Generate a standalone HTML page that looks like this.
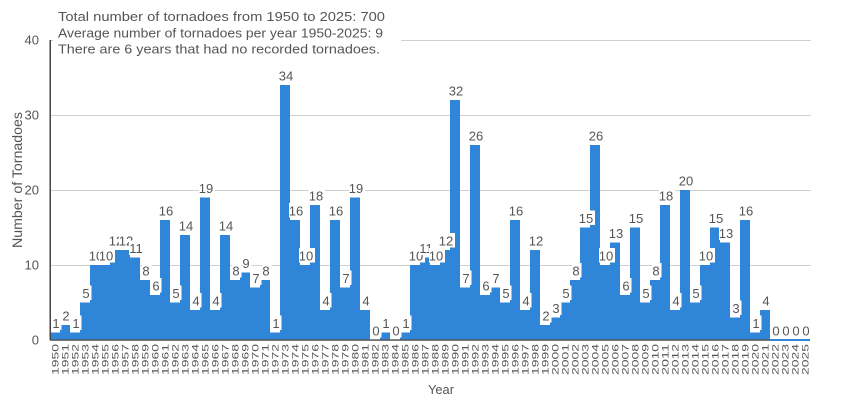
<!DOCTYPE html>
<html><head><meta charset="utf-8"><style>
html,body{margin:0;padding:0;background:#fff;}
svg{display:block;}
text{font-family:"Liberation Sans",sans-serif;fill:#555;}
.v{font-size:13px;text-anchor:middle;}
.t{font-size:9.5px;text-anchor:end;}
.y{font-size:13px;text-anchor:end;}
</style></head><body>
<svg width="860" height="400" viewBox="0 0 860 400" xmlns="http://www.w3.org/2000/svg">
<rect width="860" height="400" fill="#fff"/>
<g stroke="#d0d0d0" stroke-width="1">
<line x1="50" y1="40.5" x2="811" y2="40.5"/>
<line x1="50" y1="115.5" x2="811" y2="115.5"/>
<line x1="50" y1="190.5" x2="811" y2="190.5"/>
<line x1="50" y1="265.5" x2="811" y2="265.5"/>
</g>
<path fill="#2f85d8" d="M50 340 V332.5 H60 V325 H70 V332.5 H80 V302.5 H90 V265 H110 V250 H130 V257.5 H140 V280 H150 V295 H160 V220 H170 V302.5 H180 V235 H190 V310 H200 V197.5 H210 V310 H220 V235 H230 V280 H240 V272.5 H250 V287.5 H260 V280 H270 V332.5 H280 V85 H290 V220 H300 V265 H310 V205 H320 V310 H330 V220 H340 V287.5 H350 V197.5 H360 V310 H370 V340 H380 V332.5 H390 V340 H400 V332.5 H410 V265 H420 V257.5 H430 V265 H440 V250 H450 V100 H460 V287.5 H470 V145 H480 V295 H490 V287.5 H500 V302.5 H510 V220 H520 V310 H530 V250 H540 V325 H550 V317.5 H560 V302.5 H570 V280 H580 V227.5 H590 V145 H600 V265 H610 V242.5 H620 V295 H630 V227.5 H640 V302.5 H650 V280 H660 V205 H670 V310 H680 V190 H690 V302.5 H700 V265 H710 V227.5 H720 V242.5 H730 V317.5 H740 V220 H750 V332.5 H760 V310 H770 V340 Z"/>
<rect x="50" y="339.3" width="720" height="1.5" fill="#555"/>
<rect x="770" y="339" width="40" height="2" fill="#2f85d8"/>
<rect x="49.5" y="40" width="1.5" height="300" fill="#444"/>

<!-- value labels -->
<g>
<rect x="52.5" y="315.5" width="9" height="14.5" fill="#fff"/><text class="v" x="56" y="328">1</text>
<rect x="62.5" y="308" width="9" height="14.5" fill="#fff"/><text class="v" x="66" y="320.5">2</text>
<rect x="72.5" y="315.5" width="9" height="14.5" fill="#fff"/><text class="v" x="76" y="328">1</text>
<rect x="82.5" y="285.5" width="9" height="14.5" fill="#fff"/><text class="v" x="86" y="298">5</text>
<rect x="89" y="248" width="16" height="14.5" fill="#fff"/><text class="v" x="96" y="260.5">10</text>
<rect x="99" y="248" width="16" height="14.5" fill="#fff"/><text class="v" x="106" y="260.5">10</text>
<rect x="109" y="233" width="16" height="14.5" fill="#fff"/><text class="v" x="116" y="245.5">12</text>
<rect x="119" y="233" width="16" height="14.5" fill="#fff"/><text class="v" x="126" y="245.5">12</text>
<rect x="129" y="240.5" width="16" height="14.5" fill="#fff"/><text class="v" x="136" y="253">11</text>
<rect x="142.5" y="263" width="9" height="14.5" fill="#fff"/><text class="v" x="146" y="275.5">8</text>
<rect x="152.5" y="278" width="9" height="14.5" fill="#fff"/><text class="v" x="156" y="290.5">6</text>
<rect x="159" y="203" width="16" height="14.5" fill="#fff"/><text class="v" x="166" y="215.5">16</text>
<rect x="172.5" y="285.5" width="9" height="14.5" fill="#fff"/><text class="v" x="176" y="298">5</text>
<rect x="179" y="218" width="16" height="14.5" fill="#fff"/><text class="v" x="186" y="230.5">14</text>
<rect x="192.5" y="293" width="9" height="14.5" fill="#fff"/><text class="v" x="196" y="305.5">4</text>
<rect x="199" y="180.5" width="16" height="14.5" fill="#fff"/><text class="v" x="206" y="193">19</text>
<rect x="212.5" y="293" width="9" height="14.5" fill="#fff"/><text class="v" x="216" y="305.5">4</text>
<rect x="219" y="218" width="16" height="14.5" fill="#fff"/><text class="v" x="226" y="230.5">14</text>
<rect x="232.5" y="263" width="9" height="14.5" fill="#fff"/><text class="v" x="236" y="275.5">8</text>
<rect x="242.5" y="255.5" width="9" height="14.5" fill="#fff"/><text class="v" x="246" y="268">9</text>
<rect x="252.5" y="270.5" width="9" height="14.5" fill="#fff"/><text class="v" x="256" y="283">7</text>
<rect x="262.5" y="263" width="9" height="14.5" fill="#fff"/><text class="v" x="266" y="275.5">8</text>
<rect x="272.5" y="315.5" width="9" height="14.5" fill="#fff"/><text class="v" x="276" y="328">1</text>
<rect x="279" y="68" width="16" height="14.5" fill="#fff"/><text class="v" x="286" y="80.5">34</text>
<rect x="289" y="203" width="16" height="14.5" fill="#fff"/><text class="v" x="296" y="215.5">16</text>
<rect x="299" y="248" width="16" height="14.5" fill="#fff"/><text class="v" x="306" y="260.5">10</text>
<rect x="309" y="188" width="16" height="14.5" fill="#fff"/><text class="v" x="316" y="200.5">18</text>
<rect x="322.5" y="293" width="9" height="14.5" fill="#fff"/><text class="v" x="326" y="305.5">4</text>
<rect x="329" y="203" width="16" height="14.5" fill="#fff"/><text class="v" x="336" y="215.5">16</text>
<rect x="342.5" y="270.5" width="9" height="14.5" fill="#fff"/><text class="v" x="346" y="283">7</text>
<rect x="349" y="180.5" width="16" height="14.5" fill="#fff"/><text class="v" x="356" y="193">19</text>
<rect x="362.5" y="293" width="9" height="14.5" fill="#fff"/><text class="v" x="366" y="305.5">4</text>
<rect x="372.5" y="323" width="9" height="14.5" fill="#fff"/><text class="v" x="376" y="335.5">0</text>
<rect x="382.5" y="315.5" width="9" height="14.5" fill="#fff"/><text class="v" x="386" y="328">1</text>
<rect x="392.5" y="323" width="9" height="14.5" fill="#fff"/><text class="v" x="396" y="335.5">0</text>
<rect x="402.5" y="315.5" width="9" height="14.5" fill="#fff"/><text class="v" x="406" y="328">1</text>
<rect x="409" y="248" width="16" height="14.5" fill="#fff"/><text class="v" x="416" y="260.5">10</text>
<rect x="419" y="240.5" width="16" height="14.5" fill="#fff"/><text class="v" x="426" y="253">11</text>
<rect x="429" y="248" width="16" height="14.5" fill="#fff"/><text class="v" x="436" y="260.5">10</text>
<rect x="439" y="233" width="16" height="14.5" fill="#fff"/><text class="v" x="446" y="245.5">12</text>
<rect x="449" y="83" width="16" height="14.5" fill="#fff"/><text class="v" x="456" y="95.5">32</text>
<rect x="462.5" y="270.5" width="9" height="14.5" fill="#fff"/><text class="v" x="466" y="283">7</text>
<rect x="469" y="128" width="16" height="14.5" fill="#fff"/><text class="v" x="476" y="140.5">26</text>
<rect x="482.5" y="278" width="9" height="14.5" fill="#fff"/><text class="v" x="486" y="290.5">6</text>
<rect x="492.5" y="270.5" width="9" height="14.5" fill="#fff"/><text class="v" x="496" y="283">7</text>
<rect x="502.5" y="285.5" width="9" height="14.5" fill="#fff"/><text class="v" x="506" y="298">5</text>
<rect x="509" y="203" width="16" height="14.5" fill="#fff"/><text class="v" x="516" y="215.5">16</text>
<rect x="522.5" y="293" width="9" height="14.5" fill="#fff"/><text class="v" x="526" y="305.5">4</text>
<rect x="529" y="233" width="16" height="14.5" fill="#fff"/><text class="v" x="536" y="245.5">12</text>
<rect x="542.5" y="308" width="9" height="14.5" fill="#fff"/><text class="v" x="546" y="320.5">2</text>
<rect x="552.5" y="300.5" width="9" height="14.5" fill="#fff"/><text class="v" x="556" y="313">3</text>
<rect x="562.5" y="285.5" width="9" height="14.5" fill="#fff"/><text class="v" x="566" y="298">5</text>
<rect x="572.5" y="263" width="9" height="14.5" fill="#fff"/><text class="v" x="576" y="275.5">8</text>
<rect x="579" y="210.5" width="16" height="14.5" fill="#fff"/><text class="v" x="586" y="223">15</text>
<rect x="589" y="128" width="16" height="14.5" fill="#fff"/><text class="v" x="596" y="140.5">26</text>
<rect x="599" y="248" width="16" height="14.5" fill="#fff"/><text class="v" x="606" y="260.5">10</text>
<rect x="609" y="225.5" width="16" height="14.5" fill="#fff"/><text class="v" x="616" y="238">13</text>
<rect x="622.5" y="278" width="9" height="14.5" fill="#fff"/><text class="v" x="626" y="290.5">6</text>
<rect x="629" y="210.5" width="16" height="14.5" fill="#fff"/><text class="v" x="636" y="223">15</text>
<rect x="642.5" y="285.5" width="9" height="14.5" fill="#fff"/><text class="v" x="646" y="298">5</text>
<rect x="652.5" y="263" width="9" height="14.5" fill="#fff"/><text class="v" x="656" y="275.5">8</text>
<rect x="659" y="188" width="16" height="14.5" fill="#fff"/><text class="v" x="666" y="200.5">18</text>
<rect x="672.5" y="293" width="9" height="14.5" fill="#fff"/><text class="v" x="676" y="305.5">4</text>
<rect x="679" y="173" width="16" height="14.5" fill="#fff"/><text class="v" x="686" y="185.5">20</text>
<rect x="692.5" y="285.5" width="9" height="14.5" fill="#fff"/><text class="v" x="696" y="298">5</text>
<rect x="699" y="248" width="16" height="14.5" fill="#fff"/><text class="v" x="706" y="260.5">10</text>
<rect x="709" y="210.5" width="16" height="14.5" fill="#fff"/><text class="v" x="716" y="223">15</text>
<rect x="719" y="225.5" width="16" height="14.5" fill="#fff"/><text class="v" x="726" y="238">13</text>
<rect x="732.5" y="300.5" width="9" height="14.5" fill="#fff"/><text class="v" x="736" y="313">3</text>
<rect x="739" y="203" width="16" height="14.5" fill="#fff"/><text class="v" x="746" y="215.5">16</text>
<rect x="752.5" y="315.5" width="9" height="14.5" fill="#fff"/><text class="v" x="756" y="328">1</text>
<rect x="762.5" y="293" width="9" height="14.5" fill="#fff"/><text class="v" x="766" y="305.5">4</text>
<rect x="772.5" y="323" width="9" height="14.5" fill="#fff"/><text class="v" x="776" y="335.5">0</text>
<rect x="782.5" y="323" width="9" height="14.5" fill="#fff"/><text class="v" x="786" y="335.5">0</text>
<rect x="792.5" y="323" width="9" height="14.5" fill="#fff"/><text class="v" x="796" y="335.5">0</text>
<rect x="802.5" y="323" width="9" height="14.5" fill="#fff"/><text class="v" x="806" y="335.5">0</text>
</g>

<!-- x tick labels -->
<g>
<text class="t" textLength="31" lengthAdjust="spacingAndGlyphs" transform="translate(58.5,344) rotate(-90)">1950</text>
<text class="t" textLength="31" lengthAdjust="spacingAndGlyphs" transform="translate(68.5,344) rotate(-90)">1951</text>
<text class="t" textLength="31" lengthAdjust="spacingAndGlyphs" transform="translate(78.5,344) rotate(-90)">1952</text>
<text class="t" textLength="31" lengthAdjust="spacingAndGlyphs" transform="translate(88.5,344) rotate(-90)">1953</text>
<text class="t" textLength="31" lengthAdjust="spacingAndGlyphs" transform="translate(98.5,344) rotate(-90)">1954</text>
<text class="t" textLength="31" lengthAdjust="spacingAndGlyphs" transform="translate(108.5,344) rotate(-90)">1955</text>
<text class="t" textLength="31" lengthAdjust="spacingAndGlyphs" transform="translate(118.5,344) rotate(-90)">1956</text>
<text class="t" textLength="31" lengthAdjust="spacingAndGlyphs" transform="translate(128.5,344) rotate(-90)">1957</text>
<text class="t" textLength="31" lengthAdjust="spacingAndGlyphs" transform="translate(138.5,344) rotate(-90)">1958</text>
<text class="t" textLength="31" lengthAdjust="spacingAndGlyphs" transform="translate(148.5,344) rotate(-90)">1959</text>
<text class="t" textLength="31" lengthAdjust="spacingAndGlyphs" transform="translate(158.5,344) rotate(-90)">1960</text>
<text class="t" textLength="31" lengthAdjust="spacingAndGlyphs" transform="translate(168.5,344) rotate(-90)">1961</text>
<text class="t" textLength="31" lengthAdjust="spacingAndGlyphs" transform="translate(178.5,344) rotate(-90)">1962</text>
<text class="t" textLength="31" lengthAdjust="spacingAndGlyphs" transform="translate(188.5,344) rotate(-90)">1963</text>
<text class="t" textLength="31" lengthAdjust="spacingAndGlyphs" transform="translate(198.5,344) rotate(-90)">1964</text>
<text class="t" textLength="31" lengthAdjust="spacingAndGlyphs" transform="translate(208.5,344) rotate(-90)">1965</text>
<text class="t" textLength="31" lengthAdjust="spacingAndGlyphs" transform="translate(218.5,344) rotate(-90)">1966</text>
<text class="t" textLength="31" lengthAdjust="spacingAndGlyphs" transform="translate(228.5,344) rotate(-90)">1967</text>
<text class="t" textLength="31" lengthAdjust="spacingAndGlyphs" transform="translate(238.5,344) rotate(-90)">1968</text>
<text class="t" textLength="31" lengthAdjust="spacingAndGlyphs" transform="translate(248.5,344) rotate(-90)">1969</text>
<text class="t" textLength="31" lengthAdjust="spacingAndGlyphs" transform="translate(258.5,344) rotate(-90)">1970</text>
<text class="t" textLength="31" lengthAdjust="spacingAndGlyphs" transform="translate(268.5,344) rotate(-90)">1971</text>
<text class="t" textLength="31" lengthAdjust="spacingAndGlyphs" transform="translate(278.5,344) rotate(-90)">1972</text>
<text class="t" textLength="31" lengthAdjust="spacingAndGlyphs" transform="translate(288.5,344) rotate(-90)">1973</text>
<text class="t" textLength="31" lengthAdjust="spacingAndGlyphs" transform="translate(298.5,344) rotate(-90)">1974</text>
<text class="t" textLength="31" lengthAdjust="spacingAndGlyphs" transform="translate(308.5,344) rotate(-90)">1975</text>
<text class="t" textLength="31" lengthAdjust="spacingAndGlyphs" transform="translate(318.5,344) rotate(-90)">1976</text>
<text class="t" textLength="31" lengthAdjust="spacingAndGlyphs" transform="translate(328.5,344) rotate(-90)">1977</text>
<text class="t" textLength="31" lengthAdjust="spacingAndGlyphs" transform="translate(338.5,344) rotate(-90)">1978</text>
<text class="t" textLength="31" lengthAdjust="spacingAndGlyphs" transform="translate(348.5,344) rotate(-90)">1979</text>
<text class="t" textLength="31" lengthAdjust="spacingAndGlyphs" transform="translate(358.5,344) rotate(-90)">1980</text>
<text class="t" textLength="31" lengthAdjust="spacingAndGlyphs" transform="translate(368.5,344) rotate(-90)">1981</text>
<text class="t" textLength="31" lengthAdjust="spacingAndGlyphs" transform="translate(378.5,344) rotate(-90)">1982</text>
<text class="t" textLength="31" lengthAdjust="spacingAndGlyphs" transform="translate(388.5,344) rotate(-90)">1983</text>
<text class="t" textLength="31" lengthAdjust="spacingAndGlyphs" transform="translate(398.5,344) rotate(-90)">1984</text>
<text class="t" textLength="31" lengthAdjust="spacingAndGlyphs" transform="translate(408.5,344) rotate(-90)">1985</text>
<text class="t" textLength="31" lengthAdjust="spacingAndGlyphs" transform="translate(418.5,344) rotate(-90)">1986</text>
<text class="t" textLength="31" lengthAdjust="spacingAndGlyphs" transform="translate(428.5,344) rotate(-90)">1987</text>
<text class="t" textLength="31" lengthAdjust="spacingAndGlyphs" transform="translate(438.5,344) rotate(-90)">1988</text>
<text class="t" textLength="31" lengthAdjust="spacingAndGlyphs" transform="translate(448.5,344) rotate(-90)">1989</text>
<text class="t" textLength="31" lengthAdjust="spacingAndGlyphs" transform="translate(458.5,344) rotate(-90)">1990</text>
<text class="t" textLength="31" lengthAdjust="spacingAndGlyphs" transform="translate(468.5,344) rotate(-90)">1991</text>
<text class="t" textLength="31" lengthAdjust="spacingAndGlyphs" transform="translate(478.5,344) rotate(-90)">1992</text>
<text class="t" textLength="31" lengthAdjust="spacingAndGlyphs" transform="translate(488.5,344) rotate(-90)">1993</text>
<text class="t" textLength="31" lengthAdjust="spacingAndGlyphs" transform="translate(498.5,344) rotate(-90)">1994</text>
<text class="t" textLength="31" lengthAdjust="spacingAndGlyphs" transform="translate(508.5,344) rotate(-90)">1995</text>
<text class="t" textLength="31" lengthAdjust="spacingAndGlyphs" transform="translate(518.5,344) rotate(-90)">1996</text>
<text class="t" textLength="31" lengthAdjust="spacingAndGlyphs" transform="translate(528.5,344) rotate(-90)">1997</text>
<text class="t" textLength="31" lengthAdjust="spacingAndGlyphs" transform="translate(538.5,344) rotate(-90)">1998</text>
<text class="t" textLength="31" lengthAdjust="spacingAndGlyphs" transform="translate(548.5,344) rotate(-90)">1999</text>
<text class="t" textLength="31" lengthAdjust="spacingAndGlyphs" transform="translate(558.5,344) rotate(-90)">2000</text>
<text class="t" textLength="31" lengthAdjust="spacingAndGlyphs" transform="translate(568.5,344) rotate(-90)">2001</text>
<text class="t" textLength="31" lengthAdjust="spacingAndGlyphs" transform="translate(578.5,344) rotate(-90)">2002</text>
<text class="t" textLength="31" lengthAdjust="spacingAndGlyphs" transform="translate(588.5,344) rotate(-90)">2003</text>
<text class="t" textLength="31" lengthAdjust="spacingAndGlyphs" transform="translate(598.5,344) rotate(-90)">2004</text>
<text class="t" textLength="31" lengthAdjust="spacingAndGlyphs" transform="translate(608.5,344) rotate(-90)">2005</text>
<text class="t" textLength="31" lengthAdjust="spacingAndGlyphs" transform="translate(618.5,344) rotate(-90)">2006</text>
<text class="t" textLength="31" lengthAdjust="spacingAndGlyphs" transform="translate(628.5,344) rotate(-90)">2007</text>
<text class="t" textLength="31" lengthAdjust="spacingAndGlyphs" transform="translate(638.5,344) rotate(-90)">2008</text>
<text class="t" textLength="31" lengthAdjust="spacingAndGlyphs" transform="translate(648.5,344) rotate(-90)">2009</text>
<text class="t" textLength="31" lengthAdjust="spacingAndGlyphs" transform="translate(658.5,344) rotate(-90)">2010</text>
<text class="t" textLength="31" lengthAdjust="spacingAndGlyphs" transform="translate(668.5,344) rotate(-90)">2011</text>
<text class="t" textLength="31" lengthAdjust="spacingAndGlyphs" transform="translate(678.5,344) rotate(-90)">2012</text>
<text class="t" textLength="31" lengthAdjust="spacingAndGlyphs" transform="translate(688.5,344) rotate(-90)">2013</text>
<text class="t" textLength="31" lengthAdjust="spacingAndGlyphs" transform="translate(698.5,344) rotate(-90)">2014</text>
<text class="t" textLength="31" lengthAdjust="spacingAndGlyphs" transform="translate(708.5,344) rotate(-90)">2015</text>
<text class="t" textLength="31" lengthAdjust="spacingAndGlyphs" transform="translate(718.5,344) rotate(-90)">2016</text>
<text class="t" textLength="31" lengthAdjust="spacingAndGlyphs" transform="translate(728.5,344) rotate(-90)">2017</text>
<text class="t" textLength="31" lengthAdjust="spacingAndGlyphs" transform="translate(738.5,344) rotate(-90)">2018</text>
<text class="t" textLength="31" lengthAdjust="spacingAndGlyphs" transform="translate(748.5,344) rotate(-90)">2019</text>
<text class="t" textLength="31" lengthAdjust="spacingAndGlyphs" transform="translate(758.5,344) rotate(-90)">2020</text>
<text class="t" textLength="31" lengthAdjust="spacingAndGlyphs" transform="translate(768.5,344) rotate(-90)">2021</text>
<text class="t" textLength="31" lengthAdjust="spacingAndGlyphs" transform="translate(778.5,344) rotate(-90)">2022</text>
<text class="t" textLength="31" lengthAdjust="spacingAndGlyphs" transform="translate(788.5,344) rotate(-90)">2023</text>
<text class="t" textLength="31" lengthAdjust="spacingAndGlyphs" transform="translate(798.5,344) rotate(-90)">2024</text>
<text class="t" textLength="31" lengthAdjust="spacingAndGlyphs" transform="translate(808.5,344) rotate(-90)">2025</text>
</g>

<!-- y axis labels -->
<text class="y" x="39" y="44.5">40</text>
<text class="y" x="39" y="119.5">30</text>
<text class="y" x="39" y="194.5">20</text>
<text class="y" x="39" y="269.5">10</text>
<text class="y" x="39" y="344.5">0</text>

<text font-size="14" text-anchor="middle" textLength="136" lengthAdjust="spacingAndGlyphs" transform="translate(22,180) rotate(-90)">Number of Tornadoes</text>
<text font-size="13" x="428" y="394" textLength="26" lengthAdjust="spacingAndGlyphs">Year</text>

<!-- info box -->
<rect x="53" y="2" width="348" height="57" fill="#fff"/>
<text font-size="13" x="58" y="21" textLength="327" lengthAdjust="spacingAndGlyphs">Total number of tornadoes from 1950 to 2025: 700</text>
<text font-size="13" x="58" y="37.3" textLength="325" lengthAdjust="spacingAndGlyphs">Average number of tornadoes per year 1950-2025: 9</text>
<text font-size="13" x="58" y="53.6" textLength="322" lengthAdjust="spacingAndGlyphs">There are 6 years that had no recorded tornadoes.</text>
</svg>
</body></html>
